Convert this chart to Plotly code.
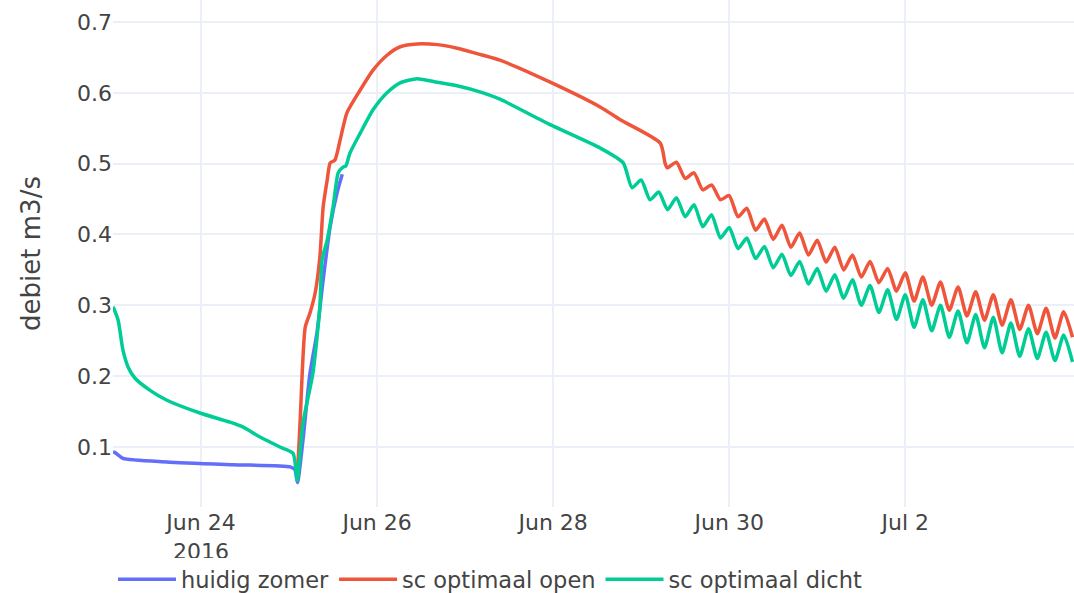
import pandas as pd
import plotly.graph_objects as go

BASE = pd.Timestamp("2016-06-23 00:00")

# hours since 2016-06-23 00:00 and discharge values (m3/s)
blue_h = [0, 0.6, 2.7, 14.7, 32.7, 48.3, 49.6, 50.3, 51.8, 53.7, 55.6, 57.3, 59.2, 61.1, 62.5]
blue_v = [0.093, 0.092, 0.084, 0.079, 0.075, 0.072, 0.068, 0.050, 0.110, 0.204, 0.261, 0.336, 0.411, 0.459, 0.485]

red_h = [50.2, 51.0, 52.4, 53.7, 55.1, 56.4, 57.3, 58.4, 59.2, 60.5, 61.9, 63.8, 67.4, 70.9, 74.7,
         78.3, 82.9, 88.4, 93.8, 100.9, 105.5, 119.2, 132.8, 138.3, 149.2, 150.5, 151.1,
         153.6, 156.0, 158.4, 160.8, 163.2, 165.6, 168.0, 170.4, 172.8, 175.2, 177.6, 180.0,
         182.4, 184.8, 187.2, 189.6, 192.0, 194.4, 196.8, 199.2, 201.6, 204.0, 206.4, 208.8,
         211.2, 213.6, 216.0, 218.4, 220.8, 223.2, 225.6, 228.0, 230.4, 232.8, 235.2, 237.6,
         240.0, 242.4, 244.8, 247.2, 249.6, 252.0, 254.4, 256.8, 259.2, 261.6]
red_v = [0.053, 0.134, 0.269, 0.289, 0.317, 0.368, 0.439, 0.477, 0.501, 0.505, 0.533, 0.572, 0.604, 0.632, 0.653,
         0.665, 0.669, 0.668, 0.663, 0.653, 0.646, 0.615, 0.580, 0.562, 0.529, 0.501, 0.494,
         0.502, 0.479, 0.487, 0.463, 0.470, 0.449, 0.455, 0.425, 0.437, 0.406, 0.422, 0.393,
         0.413, 0.382, 0.402, 0.371, 0.392, 0.361, 0.382, 0.350, 0.371, 0.340, 0.362, 0.332,
         0.352, 0.320, 0.346, 0.306, 0.340, 0.300, 0.333, 0.293, 0.326, 0.285, 0.319, 0.279,
         0.315, 0.272, 0.308, 0.266, 0.300, 0.260, 0.296, 0.254, 0.291, 0.255]

green_h = [0, 1.4, 2.7, 4.1, 6.0, 10.1, 14.7, 23.7, 31.9, 35.5, 40.1, 45.5, 49.1, 50.2, 51.8, 54.5,
           56.4, 57.0, 58.4, 60.0, 61.4, 62.7, 63.5, 64.6, 67.4, 70.9, 74.7, 78.3, 82.9, 88.4, 93.8,
           100.9, 105.5, 119.2, 132.8, 139.1, 141.5,
           144.0, 146.4, 148.8, 151.2, 153.6, 156.0, 158.4, 160.8, 163.2, 165.6, 168.0, 170.4,
           172.8, 175.2, 177.6, 180.0, 182.4, 184.8, 187.2, 189.6, 192.0, 194.4, 196.8, 199.2,
           201.6, 204.0, 206.4, 208.8, 211.2, 213.6, 216.0, 218.4, 220.8, 223.2, 225.6, 228.0,
           230.4, 232.8, 235.2, 237.6, 240.0, 242.4, 244.8, 247.2, 249.6, 252.0, 254.4, 256.8,
           259.2, 261.6]
green_v = [0.298, 0.279, 0.237, 0.213, 0.197, 0.180, 0.166, 0.148, 0.135, 0.128, 0.114, 0.100, 0.091, 0.053, 0.134, 0.204,
           0.298, 0.364, 0.392, 0.439, 0.487, 0.495, 0.497, 0.515, 0.543, 0.576, 0.600, 0.614, 0.620, 0.615, 0.610,
           0.600, 0.591, 0.555, 0.522, 0.501, 0.466,
           0.477, 0.449, 0.460, 0.435, 0.452, 0.425, 0.442, 0.411, 0.428, 0.395, 0.410, 0.380,
           0.395, 0.366, 0.383, 0.353, 0.372, 0.342, 0.362, 0.330, 0.352, 0.320, 0.343, 0.310,
           0.336, 0.300, 0.328, 0.290, 0.322, 0.280, 0.315, 0.269, 0.308, 0.264, 0.300, 0.255,
           0.292, 0.247, 0.287, 0.240, 0.283, 0.233, 0.275, 0.228, 0.267, 0.225, 0.262, 0.222,
           0.258, 0.220]

series = [
    ("huidig zomer", blue_h, blue_v, "#636efa"),
    ("sc optimaal open", red_h, red_v, "#EF553B"),
    ("sc optimaal dicht", green_h, green_v, "#00cc96"),
]


def to_time(hours):
    return [BASE + pd.Timedelta(hours=h) for h in hours]


fig = go.Figure()
for name, hs, vs, col in series:
    fig.add_trace(go.Scatter(x=to_time(hs), y=vs, mode="lines", name=name,
                             line=dict(color=col, width=3.5, shape="spline", smoothing=0.6)))

FONT = "DejaVu Sans, Verdana, sans-serif"
MARGIN_B = 86
PLOT_H = 593 - MARGIN_B
LEGEND_TOP = 558
fig.update_layout(
    width=1074, height=593,
    margin=dict(l=113, r=0, t=0, b=MARGIN_B, autoexpand=False),
    paper_bgcolor="white", plot_bgcolor="white",
    font=dict(family=FONT, size=22, color="#444"),
    showlegend=True,
    legend=dict(orientation="h", x=0, xanchor="left",
                y=-(LEGEND_TOP - PLOT_H) / PLOT_H, yanchor="top",
                bgcolor="white", itemwidth=58, font=dict(size=22.5)),
    xaxis=dict(range=[BASE, BASE + pd.Timedelta(hours=262)], type="date",
               tick0="2016-06-24", dtick=2 * 86400000, showgrid=True,
               gridcolor="#EBF0F8", gridwidth=2, zeroline=False, showline=False, ticks=""),
    yaxis=dict(range=[0.0153, 0.731], dtick=0.1, showgrid=True, gridcolor="#EBF0F8",
               gridwidth=2, zeroline=False, showline=False, ticks="",
               title=dict(text="debiet m3/s", font=dict(size=26), standoff=28)),
)

fig.write_html("out.html", config={"displayModeBar": False},
               post_script="document.body.style.margin='0px';")
